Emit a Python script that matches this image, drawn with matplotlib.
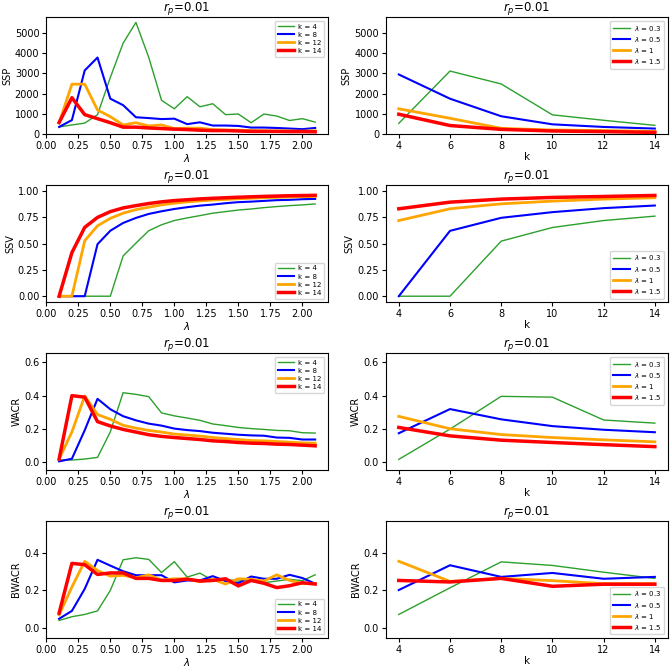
import numpy as np
import matplotlib
matplotlib.use('Agg')
from matplotlib import pyplot as plt

lam = [0.1, 0.2, 0.3, 0.4, 0.5, 0.6, 0.7, 0.8, 0.9, 1.0, 1.1,
       1.2, 1.3, 1.4, 1.5, 1.6, 1.7, 1.8, 1.9, 2.0, 2.1]
ks = [4, 6, 8, 10, 12, 14]

k_labels = ['k = 4', 'k = 8', 'k = 12', 'k = 14']
lam_labels = [r'$\lambda$ = 0.3', r'$\lambda$ = 0.5', r'$\lambda$ = 1', r'$\lambda$ = 1.5']

# SSP vs lambda (k = 4, 8, 12, 14)
ssp_k4 = [350, 450, 540, 960, 2800, 4500, 5530, 3800, 1670, 1250, 1850,
          1350, 1500, 960, 990, 560, 990, 890, 670, 760, 590]
ssp_k8 = [350, 690, 3150, 3790, 1750, 1430, 830, 790, 740, 760, 490,
          580, 420, 420, 400, 320, 320, 300, 270, 240, 300]
ssp_k12 = [550, 2470, 2470, 1190, 860, 450, 560, 400, 450, 270, 290,
           290, 220, 200, 190, 170, 160, 150, 150, 140, 160]
ssp_k14 = [570, 1800, 960, 760, 560, 340, 340, 300, 270, 240, 220,
           190, 170, 170, 150, 130, 130, 130, 120, 120, 110]

# SSP vs k (lambda = 0.3, 0.5, 1, 1.5)
ssp_l03 = [530, 3120, 2480, 950, 680, 430]
ssp_l05 = [2950, 1750, 880, 480, 350, 270]
ssp_l1 = [1250, 780, 280, 200, 170, 130]
ssp_l15 = [980, 420, 230, 150, 120, 80]

# SSV vs lambda
ssv_k4 = [0, 0, 0, 0, 0, 0.383, 0.505, 0.623, 0.68, 0.72, 0.745,
          0.767, 0.79, 0.805, 0.82, 0.83, 0.843, 0.853, 0.862, 0.869, 0.878]
ssv_k8 = [0, 0, 0, 0.495, 0.623, 0.697, 0.745, 0.783, 0.808, 0.83, 0.847,
          0.862, 0.872, 0.885, 0.895, 0.9, 0.907, 0.914, 0.917, 0.923, 0.926]
ssv_k12 = [0, 0, 0.527, 0.67, 0.741, 0.79, 0.824, 0.847, 0.869, 0.885, 0.898,
           0.907, 0.915, 0.921, 0.927, 0.932, 0.937, 0.941, 0.944, 0.947, 0.95]
ssv_k14 = [0, 0.415, 0.655, 0.75, 0.805, 0.84, 0.862, 0.882, 0.898, 0.91, 0.918,
           0.926, 0.932, 0.937, 0.942, 0.946, 0.95, 0.953, 0.956, 0.958, 0.96]

# SSV vs k
ssv_l03 = [0, 0, 0.524, 0.654, 0.72, 0.762]
ssv_l05 = [0, 0.622, 0.746, 0.8, 0.838, 0.863]
ssv_l1 = [0.72, 0.832, 0.879, 0.905, 0.924, 0.937]
ssv_l15 = [0.832, 0.895, 0.924, 0.94, 0.949, 0.959]

# WACR vs lambda
wacr_k4 = [0.01, 0.01, 0.016, 0.026, 0.18, 0.417, 0.407, 0.393, 0.295, 0.277, 0.264,
           0.25, 0.228, 0.218, 0.207, 0.2, 0.195, 0.189, 0.187, 0.175, 0.173]
wacr_k8 = [0.002, 0.018, 0.19, 0.38, 0.317, 0.275, 0.25, 0.23, 0.218, 0.2, 0.191,
           0.185, 0.175, 0.169, 0.163, 0.159, 0.157, 0.146, 0.144, 0.134, 0.134]
wacr_k12 = [0.016, 0.18, 0.397, 0.285, 0.256, 0.22, 0.203, 0.189, 0.179, 0.167, 0.161,
            0.155, 0.146, 0.14, 0.134, 0.128, 0.126, 0.122, 0.118, 0.114, 0.112]
wacr_k14 = [0.016, 0.399, 0.39, 0.242, 0.216, 0.195, 0.179, 0.163, 0.153, 0.146, 0.14,
            0.134, 0.126, 0.122, 0.116, 0.112, 0.11, 0.106, 0.104, 0.1, 0.096]

# WACR vs k
wacr_l03 = [0.014, 0.197, 0.395, 0.39, 0.252, 0.233]
wacr_l05 = [0.172, 0.318, 0.256, 0.215, 0.193, 0.178]
wacr_l1 = [0.274, 0.199, 0.164, 0.146, 0.132, 0.12]
wacr_l15 = [0.207, 0.156, 0.13, 0.116, 0.103, 0.091]

# BWACR vs lambda
bwacr_k4 = [0.04, 0.06, 0.072, 0.091, 0.2, 0.363, 0.374, 0.365, 0.295, 0.353, 0.271,
            0.292, 0.253, 0.259, 0.25, 0.252, 0.241, 0.25, 0.259, 0.252, 0.283]
bwacr_k8 = [0.049, 0.091, 0.208, 0.363, 0.332, 0.302, 0.281, 0.281, 0.281, 0.243, 0.253,
            0.253, 0.276, 0.25, 0.239, 0.274, 0.262, 0.262, 0.283, 0.266, 0.236]
bwacr_k12 = [0.07, 0.218, 0.355, 0.306, 0.276, 0.28, 0.267, 0.283, 0.255, 0.262, 0.262,
             0.246, 0.259, 0.234, 0.262, 0.259, 0.25, 0.283, 0.253, 0.236, 0.236]
bwacr_k14 = [0.079, 0.344, 0.337, 0.285, 0.293, 0.293, 0.264, 0.264, 0.253, 0.253, 0.26,
             0.25, 0.253, 0.262, 0.224, 0.253, 0.238, 0.215, 0.225, 0.241, 0.234]

# BWACR vs k
bwacr_l03 = [0.072, 0.214, 0.352, 0.333, 0.297, 0.264]
bwacr_l05 = [0.202, 0.334, 0.272, 0.293, 0.262, 0.272]
bwacr_l1 = [0.355, 0.248, 0.264, 0.252, 0.236, 0.236]
bwacr_l15 = [0.253, 0.245, 0.264, 0.222, 0.233, 0.233]

colors = ['tab:green', 'blue', 'orange', 'red']
widths = [1, 1.5, 2, 2.5]

rows = [
    ('SSP', [ssp_k4, ssp_k8, ssp_k12, ssp_k14], [ssp_l03, ssp_l05, ssp_l1, ssp_l15],
     (0, 5780), 'upper right', [0, 1000, 2000, 3000, 4000, 5000]),
    ('SSV', [ssv_k4, ssv_k8, ssv_k12, ssv_k14], [ssv_l03, ssv_l05, ssv_l1, ssv_l15],
     (-0.055, 1.055), 'lower right', [0, 0.25, 0.5, 0.75, 1.0]),
    ('WACR', [wacr_k4, wacr_k8, wacr_k12, wacr_k14], [wacr_l03, wacr_l05, wacr_l1, wacr_l15],
     (-0.05, 0.655), 'upper right', [0, 0.2, 0.4, 0.6]),
    ('BWACR', [bwacr_k4, bwacr_k8, bwacr_k12, bwacr_k14], [bwacr_l03, bwacr_l05, bwacr_l1, bwacr_l15],
     (-0.053, 0.568), 'lower right', [0, 0.2, 0.4]),
]

fig, axes = plt.subplots(4, 2, figsize=(6.71, 6.68), dpi=100)
plt.subplots_adjust(left=0.069, right=0.995, top=0.974, bottom=0.045,
                    wspace=0.206, hspace=0.44)


def style(ax, name, ylim, yt, loc):
    ax.set_ylabel(name, fontsize=7)
    ax.set_title(r'$r_p$=0.01', fontsize=8.5, pad=4)
    ax.set_ylim(*ylim)
    ax.set_yticks(yt)
    ax.tick_params(labelsize=7, length=3, pad=2)
    ax.legend(loc=loc, fontsize=5, labelspacing=0.3, handlelength=2.4,
              borderpad=0.4, handletextpad=0.6)
    ax.xaxis.labelpad = 1
    ax.yaxis.labelpad = 2


for i, (name, left_series, right_series, ylim, loc, yt) in enumerate(rows):
    ax = axes[i, 0]
    for ys, c, lw, lab in zip(left_series, colors, widths, k_labels):
        ax.plot(lam, ys, color=c, lw=lw, label=lab)
    ax.set_xlabel(r'$\lambda$', fontsize=7.5)
    ax.set_xticks(np.arange(0, 2.01, 0.25))
    style(ax, name, ylim, yt, loc)

    ax = axes[i, 1]
    for ys, c, lw, lab in zip(right_series, colors, widths, lam_labels):
        ax.plot(ks, ys, color=c, lw=lw, label=lab)
    ax.set_xlabel('k', fontsize=7.5)
    ax.set_xticks(ks)
    style(ax, name, ylim, yt, loc)

plt.savefig('out.png', dpi=100)
